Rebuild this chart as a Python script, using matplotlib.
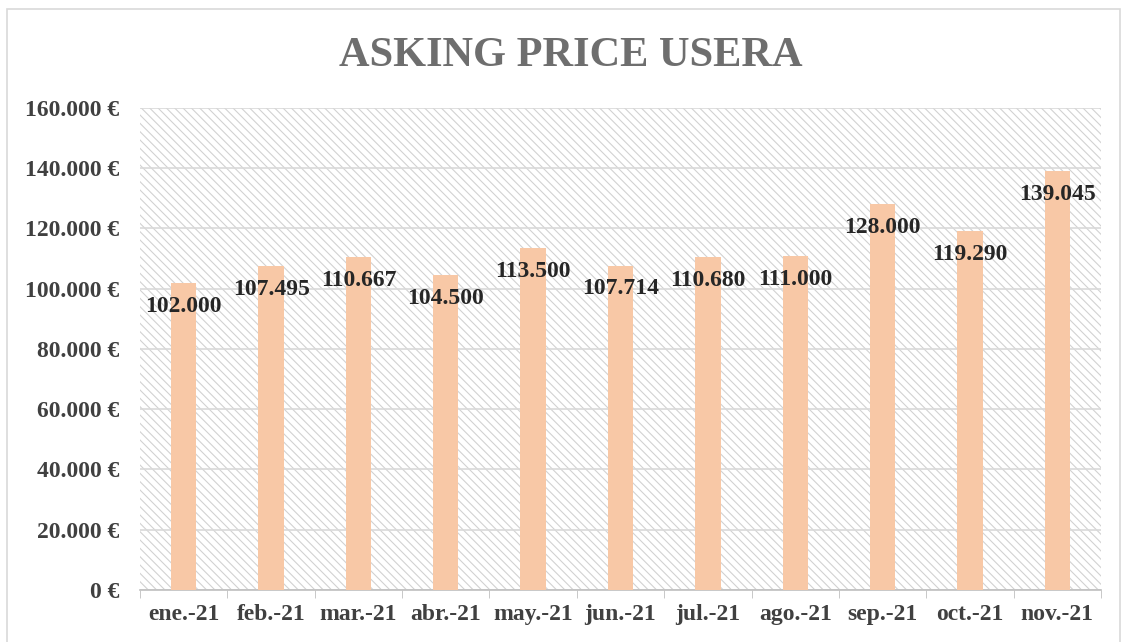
import matplotlib.pyplot as plt
from matplotlib.patches import Rectangle
from matplotlib.ticker import FuncFormatter, MultipleLocator

# ---------- datos ----------
months = ['ene.-21', 'feb.-21', 'mar.-21', 'abr.-21', 'may.-21', 'jun.-21',
          'jul.-21', 'ago.-21', 'sep.-21', 'oct.-21', 'nov.-21']
prices = [102000, 107495, 110667, 104500, 113500, 107714,
          110680, 111000, 128000, 119290, 139045]

plt.rcParams['font.family'] = ['Liberation Serif', 'DejaVu Serif']
plt.rcParams['hatch.linewidth'] = 0.8


def euro(v, pos=None):
    return f"{int(v):,} €".replace(',', '.')


fig = plt.figure(figsize=(11.23, 6.42), dpi=100)
ax = fig.add_axes([0.1247, 0.081, 0.8557, 0.7508])

# marco exterior
fig.patches.append(Rectangle((7 / 1123, -0.05), 1113 / 1123, 1.05 - 9 / 642,
                             transform=fig.transFigure, fill=False,
                             edgecolor='#d9d9d9', lw=1.2, zorder=0))

# fondo rayado
ax.add_patch(Rectangle((0, 0), 1, 1, transform=ax.transAxes, hatch='\\\\\\\\',
                       fill=False, edgecolor='#d2d2d2', lw=0, zorder=0))

x = range(len(months))
ax.bar(x, prices, width=0.29, color='#f8c8a6', zorder=3)

for i, v in enumerate(prices):
    ax.text(i, v - 7800, euro(v).replace(' €', ''), ha='center', va='center',
            fontsize=17, fontweight='bold', color='#262626', zorder=4)

ax.set_xlim(-0.5, len(months) - 0.5)
ax.set_ylim(0, 160000)
ax.yaxis.set_major_locator(MultipleLocator(20000))
ax.yaxis.set_major_formatter(FuncFormatter(euro))
ax.grid(axis='y', color='#d9d9d9', lw=1.2, zorder=1)
ax.set_axisbelow(True)

ax.set_xticks(list(x))
ax.set_xticklabels(months)
ax.set_xticks([i + 0.5 for i in range(-1, len(months))], minor=True)
ax.tick_params(axis='x', which='major', length=0, pad=10)
ax.tick_params(axis='x', which='minor', length=6, color='#bfbfbf')
ax.tick_params(axis='y', length=0, pad=15)
for lbl in ax.get_xticklabels() + ax.get_yticklabels():
    lbl.set_fontsize(17)
    lbl.set_fontweight('bold')
    lbl.set_color('#404040')

for s in ['top', 'right', 'left']:
    ax.spines[s].set_visible(False)
ax.spines['bottom'].set_color('#bfbfbf')
ax.spines['bottom'].set_linewidth(1.2)

fig.text(0.508, 0.913, 'ASKING PRICE USERA', ha='center', va='center',
         fontsize=30.5, fontweight='bold', color='#6e6e6e')

fig.savefig('out.png', dpi=100)
